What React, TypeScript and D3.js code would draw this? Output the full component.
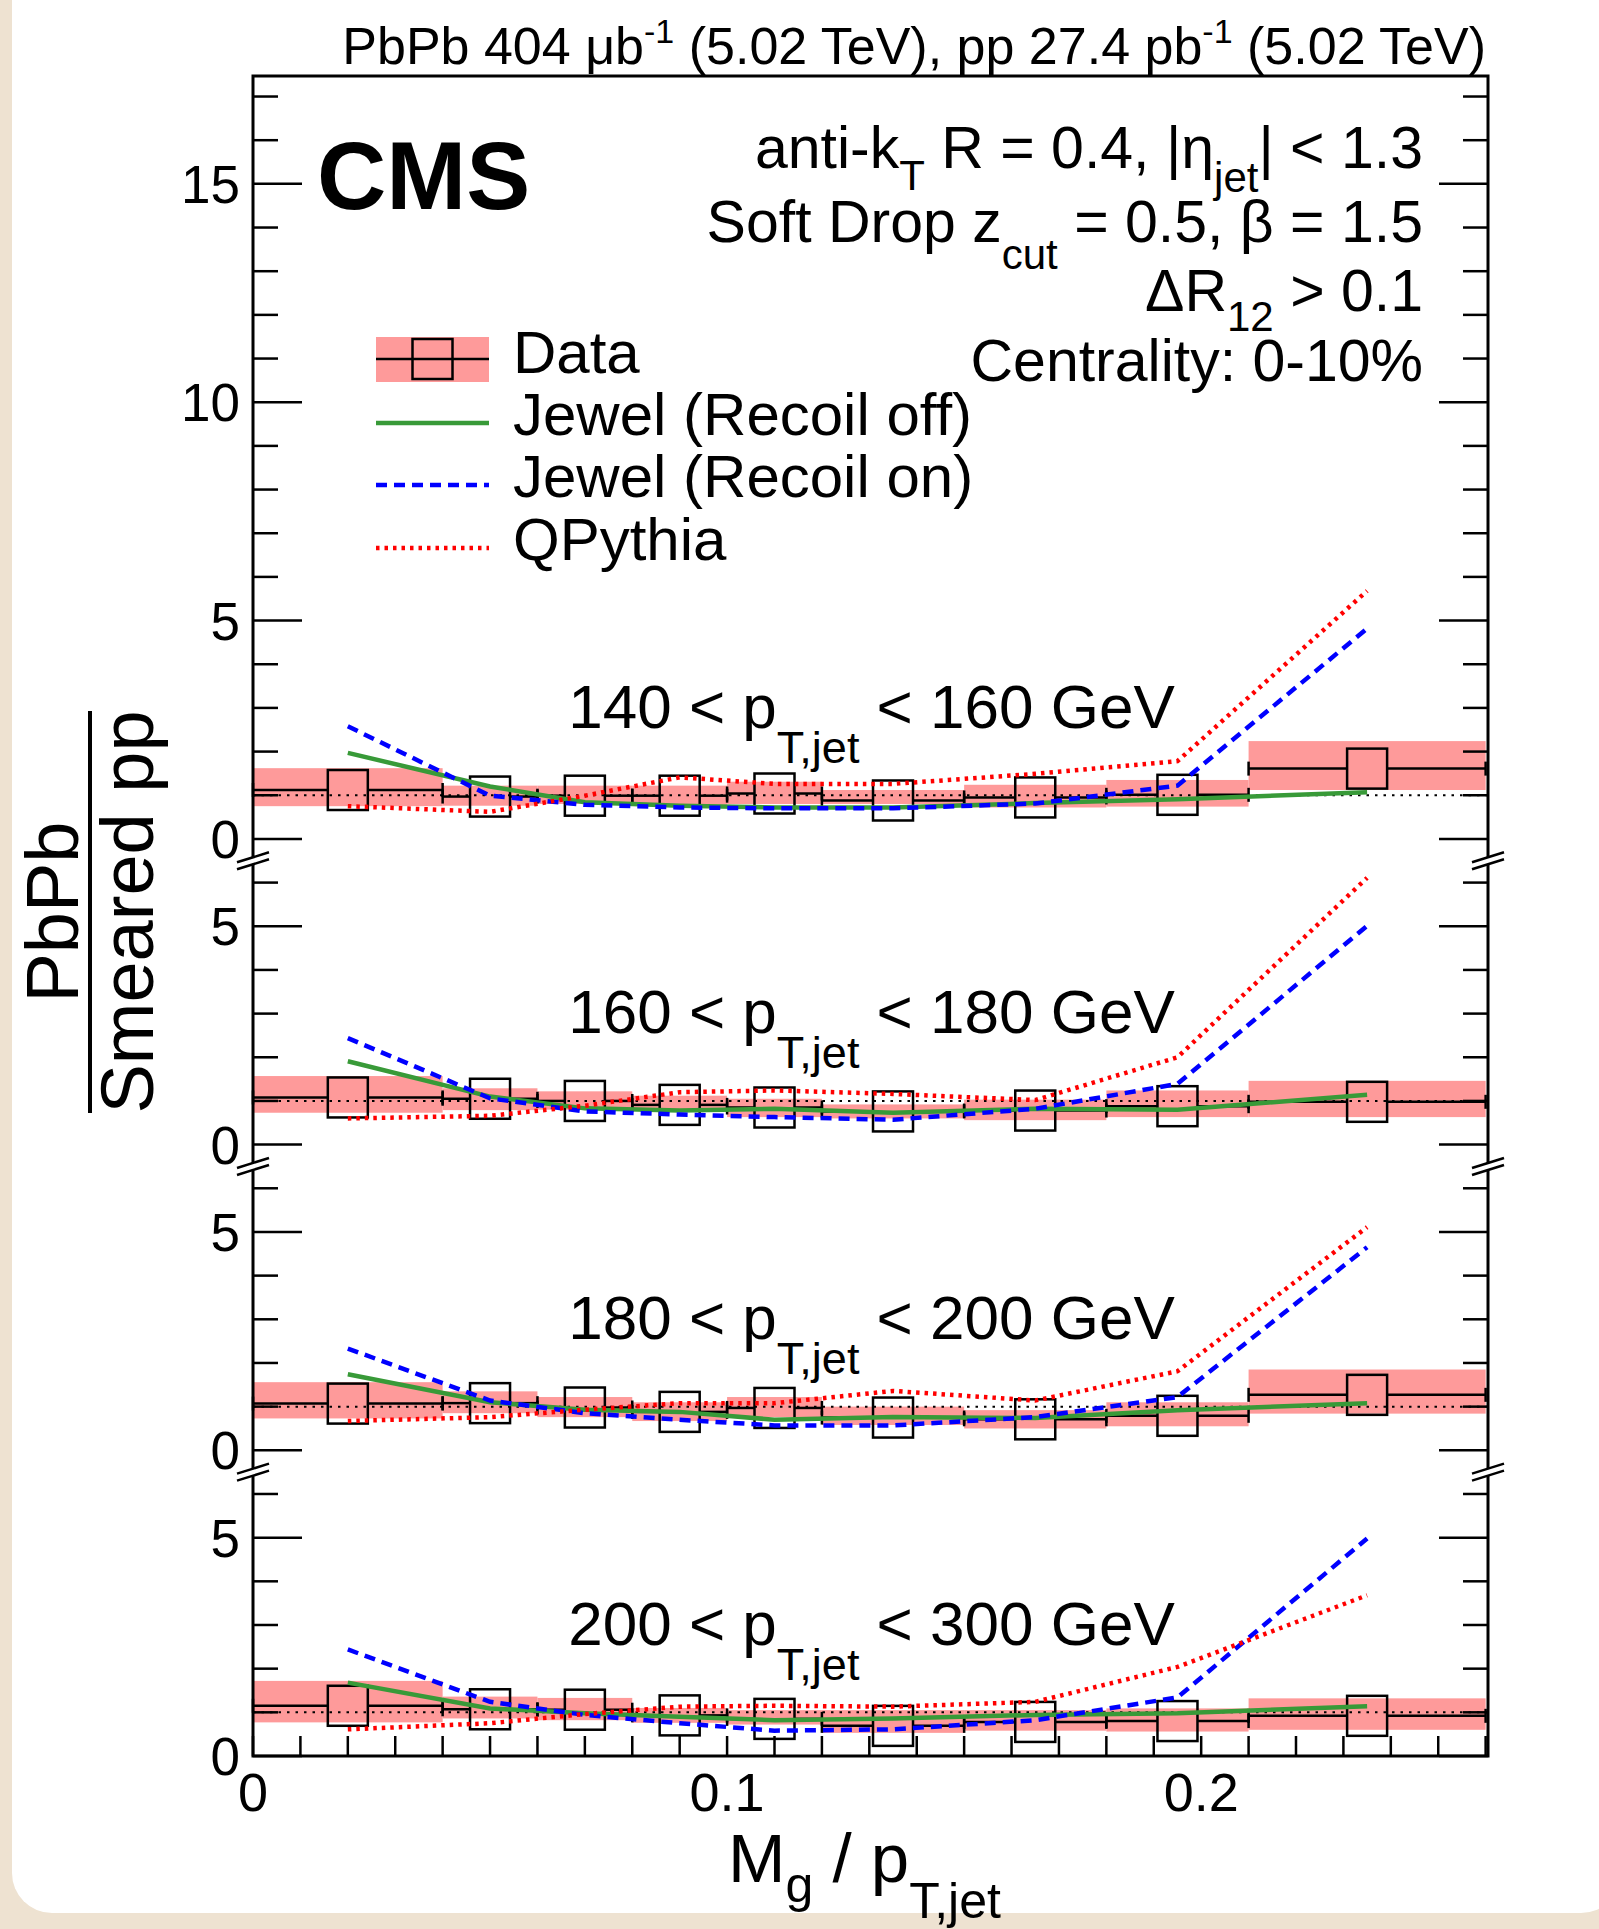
import React, { useEffect, useRef } from "react";
import * as d3 from "d3";

// Mg / pT,jet binning
const binEdges = [0, 0.04, 0.06, 0.08, 0.1, 0.12, 0.15, 0.18, 0.21, 0.26];
const binCenters = [0.02, 0.05, 0.07, 0.09, 0.11, 0.135, 0.165, 0.195, 0.235];

// panels, top to bottom
const ptLow = ["140", "160", "180", "200"];
const ptHigh = ["160", "180", "200", "300"];
const panelOffsets = [21, 14, 7, 0];
const panelTickMax = [17, 6, 6, 6];
const panelLabels = [[0, 5, 10, 15], [0, 5], [0, 5], [0, 5]];

// PbPb / smeared pp
const dataVal = [
  [1.12, 0.97, 0.99, 0.99, 1.04, 0.88, 0.95, 1.01, 1.61],
  [1.08, 1.05, 1.0, 0.91, 0.85, 0.76, 0.78, 0.88, 0.98],
  [1.07, 1.08, 0.98, 0.88, 0.97, 0.75, 0.71, 0.79, 1.27],
  [1.15, 1.07, 1.06, 0.93, 0.85, 0.69, 0.78, 0.8, 0.92],
];
const systLow = [
  [0.75, 0.76, 0.8, 0.78, 0.8, 0.8, 0.72, 0.74, 1.12],
  [0.73, 0.79, 0.8, 0.78, 0.63, 0.6, 0.56, 0.63, 0.63],
  [0.73, 0.85, 0.76, 0.67, 0.76, 0.58, 0.5, 0.55, 0.84],
  [0.77, 0.86, 0.82, 0.76, 0.72, 0.53, 0.58, 0.56, 0.6],
];
const systHigh = [
  [1.62, 1.22, 1.22, 1.22, 1.31, 1.12, 1.24, 1.35, 2.24],
  [1.57, 1.29, 1.22, 1.12, 1.05, 0.92, 1.03, 1.24, 1.46],
  [1.56, 1.35, 1.22, 1.1, 1.22, 1.0, 0.92, 1.1, 1.85],
  [1.72, 1.36, 1.33, 1.1, 1.05, 1.05, 1.05, 1.09, 1.32],
];

// models
const jewelOff = [
  [1.97, 1.2, 0.84, 0.76, 0.72, 0.72, 0.82, 0.91, 1.07],
  [1.91, 1.1, 0.83, 0.78, 0.82, 0.73, 0.82, 0.8, 1.14],
  [1.74, 1.1, 0.93, 0.88, 0.7, 0.76, 0.74, 0.92, 1.08],
  [1.68, 1.09, 0.98, 0.9, 0.82, 0.86, 0.94, 0.98, 1.14],
];
const jewelOn = [
  [2.58, 0.99, 0.78, 0.72, 0.7, 0.7, 0.81, 1.22, 4.82],
  [2.44, 1.06, 0.76, 0.69, 0.63, 0.57, 0.82, 1.39, 5.01],
  [2.33, 1.14, 0.85, 0.7, 0.57, 0.57, 0.76, 1.22, 4.65],
  [2.44, 1.24, 0.94, 0.75, 0.58, 0.61, 0.82, 1.34, 4.98],
];
const qpythia = [
  [0.75, 0.62, 0.99, 1.41, 1.26, 1.26, 1.49, 1.78, 5.68],
  [0.6, 0.66, 0.89, 1.2, 1.24, 1.16, 1.02, 2.0, 6.11],
  [0.67, 0.76, 0.93, 1.08, 1.08, 1.36, 1.14, 1.81, 5.11],
  [0.61, 0.75, 0.96, 1.13, 1.15, 1.13, 1.24, 2.04, 3.68],
];

const xTickLabels = [0, 0.1, 0.2];

const W = 1599;
const H = 1929;
const font = "'Liberation Sans', Arial, Helvetica, sans-serif";
const pink = "#fe9a9a";
const green = "#389a38";
const blue = "#0000ff";
const red = "#ff0000";

type Part = { t: string; dy?: number; size?: number };

// text with sub/superscripts, dy is the offset from the main baseline
const richText = (parent: any, x: number, y: number, parts: Part[], size: number, anchor = "start") => {
  const txt = parent
    .append("text")
    .attr("x", x)
    .attr("y", y)
    .attr("font-size", size)
    .attr("font-family", font)
    .attr("text-anchor", anchor)
    .style("white-space", "pre");
  let cur = 0;
  parts.forEach((p) => {
    const off = p.dy || 0;
    txt
      .append("tspan")
      .attr("dy", off - cur)
      .attr("font-size", p.size || size)
      .text(p.t);
    cur = off;
  });
  return txt;
};

const App = () => {
  const ref = useRef<SVGSVGElement>(null);

  useEffect(() => {
    document.body.style.margin = "0";
    const svg = d3.select(ref.current);
    svg.selectAll("*").remove();

    const x = d3.scaleLinear().domain([0, 0.2605]).range([253, 1488]);
    const y = d3.scaleLinear().domain([0, 38.47]).range([1756, 76]);
    const x0 = x(0);
    const x1 = x(0.2605);

    // page background
    svg.append("rect").attr("width", W).attr("height", H).attr("fill", "#eee2d1");
    svg
      .append("rect")
      .attr("x", 12)
      .attr("y", -60)
      .attr("width", W + 10)
      .attr("height", 1913 + 60)
      .attr("rx", 40)
      .attr("fill", "#ffffff");

    const plot = svg.append("g");

    panelOffsets.forEach((off, p) => {
      // systematic bands
      binCenters.forEach((c, i) => {
        plot
          .append("rect")
          .attr("x", x(binEdges[i]))
          .attr("width", x(binEdges[i + 1]) - x(binEdges[i]))
          .attr("y", y(off + systHigh[p][i]))
          .attr("height", y(off + systLow[p][i]) - y(off + systHigh[p][i]))
          .attr("fill", pink);
      });

      // unity line
      plot
        .append("line")
        .attr("x1", x0)
        .attr("x2", x1)
        .attr("y1", y(off + 1))
        .attr("y2", y(off + 1))
        .attr("stroke", "#000")
        .attr("stroke-width", 2)
        .attr("stroke-dasharray", "2.5 6");

      // data points
      const half = 20;
      binCenters.forEach((c, i) => {
        const cx = x(c);
        const cy = y(off + dataVal[p][i]);
        const xl = x(binEdges[i]);
        const xr = x(binEdges[i + 1]);
        [
          [xl, cx - half],
          [cx + half, xr],
        ].forEach(([a, b]) => {
          plot
            .append("line")
            .attr("x1", a)
            .attr("x2", b)
            .attr("y1", cy)
            .attr("y2", cy)
            .attr("stroke", "#000")
            .attr("stroke-width", 2.5);
        });
        [xl, xr].forEach((ex) => {
          plot
            .append("line")
            .attr("x1", ex)
            .attr("x2", ex)
            .attr("y1", cy - 7)
            .attr("y2", cy + 7)
            .attr("stroke", "#000")
            .attr("stroke-width", 2.5);
        });
        plot
          .append("rect")
          .attr("x", cx - half)
          .attr("y", cy - half)
          .attr("width", 2 * half)
          .attr("height", 2 * half)
          .attr("fill", "none")
          .attr("stroke", "#000")
          .attr("stroke-width", 2.5);
      });

      // model curves
      const line = d3
        .line<number>()
        .x((d, i) => x(binCenters[i]))
        .y((d) => y(off + d));
      const models: [number[], string, string, number][] = [
        [jewelOff[p], green, "none", 4.5],
        [jewelOn[p], blue, "11 7", 4.5],
        [qpythia[p], red, "3.5 5", 4.5],
      ];
      models.forEach(([vals, col, dash, sw]) => {
        plot
          .append("path")
          .datum(vals)
          .attr("d", line)
          .attr("fill", "none")
          .attr("stroke", col)
          .attr("stroke-width", sw)
          .attr("stroke-dasharray", dash);
      });

      // pT range label
      richText(
        svg,
        x(0.0665),
        y(off + 2.55),
        [
          { t: ptLow[p] + " < p" },
          { t: "T,jet", dy: 35, size: 45 },
          { t: " < " + ptHigh[p] + " GeV" },
        ],
        62
      );
    });

    // frame
    svg
      .append("rect")
      .attr("x", x0)
      .attr("y", y(38.47))
      .attr("width", x1 - x0)
      .attr("height", y(0) - y(38.47))
      .attr("fill", "none")
      .attr("stroke", "#000")
      .attr("stroke-width", 3);

    // y ticks on both sides
    panelOffsets.forEach((off, p) => {
      d3.range(0, panelTickMax[p] + 1).forEach((t) => {
        const major = t % 5 === 0;
        const len = major ? 49 : 25;
        const ty = y(off + t);
        svg.append("line").attr("x1", x0).attr("x2", x0 + len).attr("y1", ty).attr("y2", ty).attr("stroke", "#000").attr("stroke-width", 2.5);
        svg.append("line").attr("x1", x1).attr("x2", x1 - len).attr("y1", ty).attr("y2", ty).attr("stroke", "#000").attr("stroke-width", 2.5);
      });
      panelLabels[p].forEach((t) => {
        svg
          .append("text")
          .attr("x", x0 - 13)
          .attr("y", y(off + t))
          .attr("dy", "0.36em")
          .attr("text-anchor", "end")
          .attr("font-size", 53)
          .attr("font-family", font)
          .text(t);
      });
      // axis breaks
      if (off > 0) {
        const by = y(off - 0.5);
        [x0, x1].forEach((bx) => {
          svg
            .append("polygon")
            .attr("points", `${bx - 16},${by + 8} ${bx + 16},${by - 2} ${bx + 16},${by - 8} ${bx - 16},${by + 2}`)
            .attr("fill", "#fff");
          [-3.5, 3.5].forEach((d) => {
            svg
              .append("line")
              .attr("x1", bx - 16)
              .attr("y1", by + 5 + d)
              .attr("x2", bx + 16)
              .attr("y2", by - 5 + d)
              .attr("stroke", "#000")
              .attr("stroke-width", 2.5);
          });
        });
      }
    });

    // x ticks
    d3.range(0, 27).forEach((k) => {
      const tx = x(k / 100);
      svg.append("line").attr("x1", tx).attr("x2", tx).attr("y1", y(0)).attr("y2", y(0) - 20).attr("stroke", "#000").attr("stroke-width", 2.5);
    });
    xTickLabels.forEach((t) => {
      svg
        .append("text")
        .attr("x", x(t))
        .attr("y", 1811)
        .attr("text-anchor", "middle")
        .attr("font-size", 54)
        .attr("font-family", font)
        .text(String(t));
    });

    // x title
    richText(
      svg,
      728,
      1882,
      [
        { t: "M" },
        { t: "g", dy: 20, size: 50 },
        { t: " / p" },
        { t: "T,jet", dy: 36, size: 50 },
      ],
      69
    );

    // y title as a fraction
    const yt = svg.append("g").attr("transform", "translate(0,912) rotate(-90)");
    yt.append("text").attr("x", 0).attr("y", 78).attr("text-anchor", "middle").attr("font-size", 74).attr("font-family", font).text("PbPb");
    yt.append("text").attr("x", 0).attr("y", 153).attr("text-anchor", "middle").attr("font-size", 74).attr("font-family", font).text("Smeared pp");
    yt.append("line").attr("x1", -201).attr("x2", 201).attr("y1", 90).attr("y2", 90).attr("stroke", "#000").attr("stroke-width", 4);

    // header
    richText(
      svg,
      1486,
      64,
      [
        { t: "PbPb 404 μb" },
        { t: "-1", dy: -21, size: 34 },
        { t: " (5.02 TeV), pp 27.4 pb" },
        { t: "-1", dy: -21, size: 34 },
        { t: " (5.02 TeV)" },
      ],
      52,
      "end"
    );

    // CMS
    svg
      .append("text")
      .attr("x", 317)
      .attr("y", 209)
      .attr("font-size", 96)
      .attr("font-weight", "bold")
      .attr("font-family", font)
      .text("CMS");

    // selection text
    const rx = 1423;
    richText(svg, rx, 168, [{ t: "anti-k" }, { t: "T", dy: 22, size: 42 }, { t: " R = 0.4, |η" }, { t: "jet", dy: 24, size: 42 }, { t: "| < 1.3" }], 59, "end");
    richText(svg, rx, 242, [{ t: "Soft Drop z" }, { t: "cut", dy: 27, size: 42 }, { t: " = 0.5, β = 1.5" }], 59, "end");
    richText(svg, rx, 311, [{ t: "ΔR" }, { t: "12", dy: 20, size: 42 }, { t: " > 0.1" }], 59, "end");
    richText(svg, rx, 381, [{ t: "Centrality: 0-10%" }], 59, "end");

    // legend
    const lx0 = 376;
    const lx1 = 489;
    const lmid = (lx0 + lx1) / 2;
    const leg = svg.append("g");
    leg.append("rect").attr("x", lx0).attr("y", 337).attr("width", lx1 - lx0).attr("height", 45).attr("fill", pink);
    leg.append("line").attr("x1", lx0).attr("x2", lx1).attr("y1", 359).attr("y2", 359).attr("stroke", "#000").attr("stroke-width", 2.5);
    leg.append("rect").attr("x", lmid - 20).attr("y", 339).attr("width", 40).attr("height", 40).attr("fill", "none").attr("stroke", "#000").attr("stroke-width", 2.5);
    const legLines: [number, string, string][] = [
      [423, green, "none"],
      [485, blue, "11 7"],
      [548, red, "3.5 5"],
    ];
    legLines.forEach(([ly, col, dash]) => {
      leg.append("line").attr("x1", lx0).attr("x2", lx1).attr("y1", ly).attr("y2", ly).attr("stroke", col).attr("stroke-width", 4.5).attr("stroke-dasharray", dash);
    });
    const legText: [string, number][] = [
      ["Data", 373],
      ["Jewel (Recoil off)", 435],
      ["Jewel (Recoil on)", 497],
      ["QPythia", 560],
    ];
    legText.forEach(([t, ly]) => {
      leg.append("text").attr("x", 513).attr("y", ly).attr("font-size", 60).attr("font-family", font).text(t);
    });
  }, []);

  return (
    <div style={{ position: "absolute", left: 0, top: 0 }}>
      <svg ref={ref} width={W} height={H} style={{ display: "block" }}></svg>
    </div>
  );
};

export default App;
